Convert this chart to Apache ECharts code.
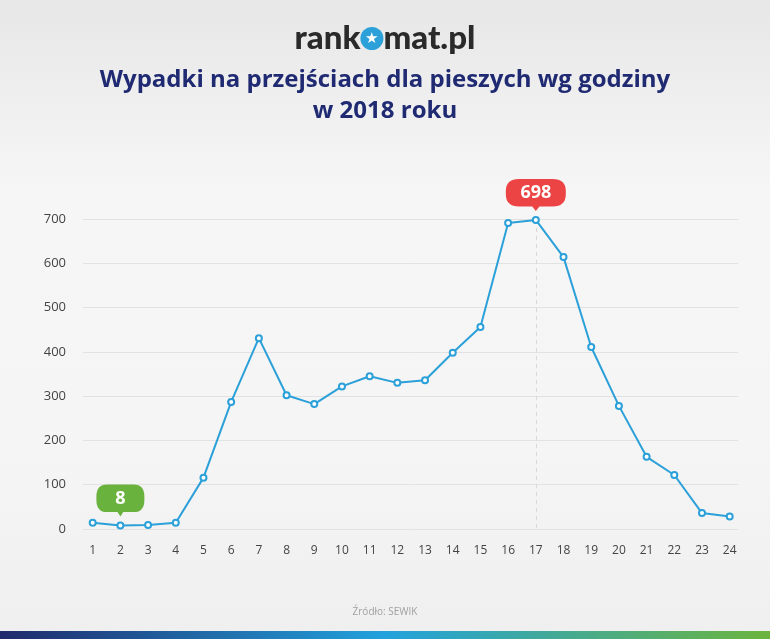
<!DOCTYPE html>
<html><head><meta charset="utf-8">
<script src="https://cdn.jsdelivr.net/npm/echarts@6/dist/echarts.min.js"></script>
<style>html,body{margin:0;padding:0;}#c{width:770px;height:639px;}</style>
</head><body><div id="c"></div>
<script>
const hours = [1,2,3,4,5,6,7,8,9,10,11,12,13,14,15,16,17,18,19,20,21,22,23,24];
const accidents = [14,8,9,14,116,287,431,302,282,322,345,330,336,398,456,691,698,614,411,278,163,122,36,28];
const yTicks = [0,100,200,300,400,500,600,700];
const titleLines = ['Wypadki na przejściach dla pieszych wg godziny', 'w 2018 roku'];
const sourceText = 'Źródło: SEWIK';

const chart = echarts.init(document.getElementById('c'), null, {renderer:'canvas'});
const bubble = 'path://M22,0 H78 Q100,0 100,22 V28 Q100,50 78,50 H56 L50,58 L44,50 H22 Q0,50 0,28 V22 Q0,0 22,0 Z';
const minIdx = accidents.indexOf(Math.min(...accidents));
const maxIdx = accidents.indexOf(Math.max(...accidents));
const font = 'Open Sans';

chart.setOption({
  backgroundColor: {type:'linear', x:0, y:0, x2:0, y2:1, colorStops:[
    {offset:0, color:'#e7e7e7'}, {offset:0.3, color:'#f6f6f6'}, {offset:0.7, color:'#f5f5f5'}, {offset:1, color:'#efefef'}]},
  animation: false,
  grid: {left:83, right:32, top:219, bottom:110},
  xAxis: {
    type:'value', min:0.65, max:24.3,
    axisLine:{show:false}, axisTick:{show:false}, splitLine:{show:false},
    axisLabel:{customValues:hours, color:'#444', fontSize:12, fontFamily:font, margin:16}
  },
  yAxis: {
    type:'value', min:0, max:700, interval:100,
    axisLine:{show:false}, axisTick:{show:false},
    splitLine:{lineStyle:{color:'#e2e2e2', width:1}},
    axisLabel:{customValues:yTicks, color:'#444', fontSize:13, fontFamily:font, margin:17}
  },
  series: [{
    type:'line',
    data: hours.map((h,i)=>[h, accidents[i]]),
    lineStyle:{color:'#2ba0d9', width:2},
    itemStyle:{color:'#2ba0d9', borderColor:'#2ba0d9', borderWidth:2},
    symbol:'emptyCircle', symbolSize:6,
    z:5,
    markLine:{
      silent:true, symbol:'none', label:{show:false},
      lineStyle:{color:'#d8d8d8', type:[4,4], width:1},
      data:[[{coord:[hours[maxIdx], accidents[maxIdx]]},{coord:[hours[maxIdx], 0]}]]
    },
    markPoint:{
      silent:true,
      data:[
        {coord:[hours[maxIdx], accidents[maxIdx]], value:accidents[maxIdx], symbol:bubble, symbolSize:[60,32], symbolOffset:[0,-25],
          itemStyle:{color:'#ec4444'}},
        {coord:[hours[minIdx], accidents[minIdx]], value:accidents[minIdx], symbol:bubble, symbolSize:[48,32], symbolOffset:[0,-25],
          itemStyle:{color:'#6ab23e'}}
      ],
      label:{show:true, color:'#fff', fontSize:18, fontWeight:'bold', fontFamily:font, offset:[0,-2]}
    }
  }],
  graphic: [
    {type:'rect', left:0, top:631, shape:{width:770, height:8}, style:{fill:{type:'linear', x:0, y:0, x2:1, y2:0, colorStops:[
      {offset:0, color:'#1f2a6b'}, {offset:0.5, color:'#22a2dd'}, {offset:1, color:'#6cb43e'}]}}},
    {type:'text', left:'center', top:22, style:{
      text:'{a|rank}{o|★}{a|mat.pl}',
      rich:{
        a:{fontSize:33, fontWeight:900, fontFamily:'Lato', fill:'#2a2a2a'},
        o:{fontSize:15, fill:'#ffffff', backgroundColor:'#2ba0d9', borderRadius:12, width:23, height:23, align:'center', lineHeight:23}
      }
    }},
    {type:'text', left:'center', top:65, style:{
      text:titleLines.join('\n'), fill:'#1f2a72', font:'bold 24px "'+font+'"', textAlign:'center', lineHeight:31
    }},
    {type:'text', left:'center', top:607, style:{text:sourceText, fill:'#a0a0a0', font:'10px "'+font+'"'}}
  ]
});
</script></body></html>
